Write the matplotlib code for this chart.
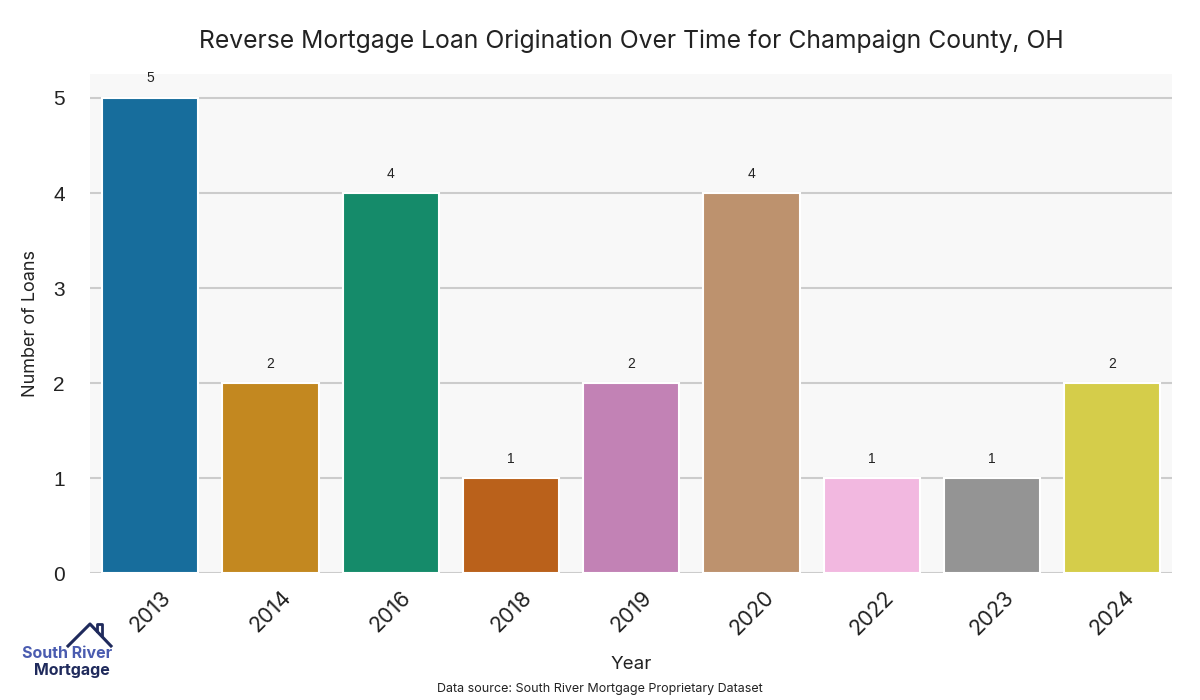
import matplotlib
matplotlib.use('Agg')
import matplotlib.pyplot as plt
import seaborn as sns
from matplotlib.lines import Line2D

years = ['2013', '2014', '2016', '2018', '2019', '2020', '2022', '2023', '2024']
loans = [5, 2, 4, 1, 2, 4, 1, 1, 2]

plt.rcParams['font.family'] = ['Inter', 'DejaVu Sans']

fig = plt.figure(figsize=(12, 7), dpi=100)
ax = fig.add_axes([0.075, 0.181, 0.902, 0.713])
ax.set_facecolor('#f8f8f8')

colors = sns.color_palette('colorblind', len(years))
colors = [sns.desaturate(c, 0.75) for c in colors]
x = range(len(years))
bars = ax.bar(x, loans, width=0.8, color=colors, edgecolor='white', linewidth=1.5, zorder=3)

for b, v in zip(bars, loans):
    ax.annotate(str(v), (b.get_x() + b.get_width() / 2, v), xytext=(0, 9),
                textcoords='offset points', ha='center', va='bottom',
                fontsize=10, color='#222222', family=['Liberation Sans', 'DejaVu Sans'])

ax.set_xlim(-0.5, len(years) - 0.5)
ax.set_ylim(0, 5.25)
ax.set_yticks(range(6))
ax.set_xticks(list(x))
ax.set_xticklabels(years, rotation=45, fontsize=15.5, color='#222222')
ax.tick_params(axis='y', labelsize=15, colors='#222222', length=0, pad=18)
ax.tick_params(axis='x', length=0, pad=10)
for lab in ax.get_yticklabels():
    lab.set_family(['Liberation Sans', 'DejaVu Sans'])
ax.grid(axis='y', color='#cccccc', linewidth=1.5, zorder=0)
ax.grid(axis='x', visible=False)
for s in ax.spines.values():
    s.set_visible(False)

ax.set_ylabel('Number of Loans', fontsize=13, color='#222222', labelpad=10)
ax.set_xlabel('Year', fontsize=13.5, color='#222222', labelpad=12)
ax.set_title('Reverse Mortgage Loan Origination Over Time for Champaign County, OH',
             fontsize=17.8, color='#222222', pad=19)
fig.text(0.5, 0.016, 'Data source: South River Mortgage Proprietary Dataset',
         ha='center', va='center', fontsize=9, color='#222222')

# logo
fig.text(67 / 1200, 1 - 653 / 700, 'South River', ha='center', va='center',
         fontsize=11.5, fontweight='bold', color='#4a5cb0')
fig.text(110 / 1200, 1 - 670 / 700, 'Mortgage', ha='right', va='center',
         fontsize=11.5, fontweight='bold', color='#1f2a5c')
fig.add_artist(Line2D([68 / 1200, 90 / 1200, 111 / 1200],
                      [1 - 646 / 700, 1 - 624 / 700, 1 - 646 / 700],
                      color='#1f2a5c', linewidth=2.2, transform=fig.transFigure))
fig.add_artist(Line2D([97 / 1200, 97 / 1200, 102 / 1200, 102 / 1200],
                      [1 - 631 / 700, 1 - 624 / 700, 1 - 624 / 700, 1 - 636 / 700],
                      color='#1f2a5c', linewidth=2.0, transform=fig.transFigure))

fig.savefig('out.png', dpi=100)
